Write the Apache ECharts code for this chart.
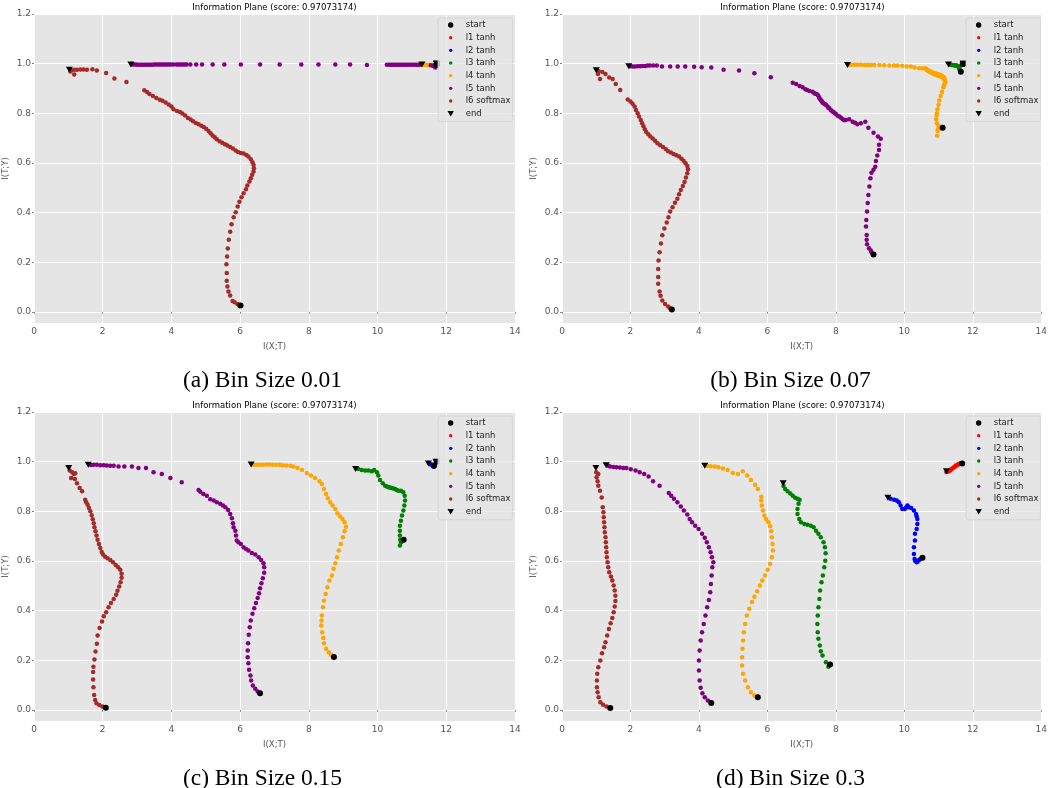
<!DOCTYPE html>
<html><head><meta charset="utf-8">
<script src="https://cdn.jsdelivr.net/npm/echarts@6/dist/echarts.min.js"></script>
<style>html,body{margin:0;padding:0;background:#fff}#c{width:1050px;height:788px}</style>
</head><body><div id="c"></div>
<script>
const layerNames = ['l1 tanh','l2 tanh','l3 tanh','l4 tanh','l5 tanh','l6 softmax'];
const layerColors = ['#ff0000','#0000ff','#008000','#ffa500','#800080','#a52a2a'];
const panelTitle = 'Information Plane (score: 0.97073174)';
const captions = ['(a) Bin Size 0.01','(b) Bin Size 0.07','(c) Bin Size 0.15','(d) Bin Size 0.3'];
const xAxisName = 'I(X;T)';
const yAxisName = 'I(T;Y)';

// ---------- panel (a) ----------
const a_l1 = [[11.72,0.998],[11.71,0.997],[11.70,0.998]];
const a_l2 = [[11.72,0.998],[11.71,0.998]];
const a_l3 = [[11.72,0.998],[11.70,0.997]];
const a_l4 = [[11.72,0.996],[11.68,0.995],[11.64,0.995],[11.60,0.995],[11.56,0.995],[11.52,0.995],[11.48,0.995],[11.44,0.995],[11.40,0.996],[11.36,0.996],[11.33,0.996],[11.30,0.997]];
const a_l5 = [[11.68,0.984],[11.62,0.99],[11.55,0.994],[11.24,0.996],[11.18,0.996],[11.12,0.996],[11.06,0.996],[11.0,0.996],[10.94,0.996],[10.88,0.996],[10.82,0.996],[10.76,0.996],[10.70,0.996],[10.64,0.996],[10.58,0.996],[10.52,0.996],[10.46,0.996],[10.40,0.996],[10.34,0.996],[10.27,0.996],[9.69,0.995],[9.20,0.997],[8.77,0.997],[8.28,0.997],[7.78,0.997],[7.15,0.997],[6.58,0.997],[6.02,0.997],[5.54,0.997],[5.20,0.997],[4.89,0.997],[4.72,0.997],[4.55,0.997],[4.44,0.997],[4.38,0.997],[4.32,0.997],[4.26,0.997],[4.20,0.997],[4.14,0.997],[4.05,0.997],[3.98,0.997],[3.92,0.997],[3.86,0.997],[3.80,0.997],[3.74,0.997],[3.68,0.997],[3.62,0.997],[3.56,0.997],[3.50,0.997],[3.44,0.996],[3.38,0.996],[3.32,0.996],[3.26,0.996],[3.20,0.996],[3.14,0.996],[3.08,0.996],[3.02,0.996],[2.96,0.997],[2.90,0.997],[2.85,0.997]];
const a_l6 = [[5.98,0.028],[5.92,0.032],[5.84,0.039],[5.78,0.044],[5.71,0.066],[5.66,0.082],[5.63,0.102],[5.61,0.125],[5.61,0.156],[5.60,0.192],[5.62,0.223],[5.64,0.255],[5.67,0.29],[5.71,0.323],[5.75,0.353],[5.81,0.381],[5.87,0.401],[5.93,0.424],[5.98,0.444],[6.04,0.462],[6.10,0.478],[6.17,0.494],[6.21,0.509],[6.27,0.525],[6.31,0.538],[6.35,0.552],[6.39,0.565],[6.40,0.579],[6.39,0.592],[6.36,0.603],[6.31,0.615],[6.24,0.626],[6.18,0.632],[6.10,0.638],[6.02,0.640],[5.94,0.644],[5.87,0.65],[5.79,0.658],[5.71,0.664],[5.63,0.67],[5.56,0.675],[5.48,0.681],[5.40,0.687],[5.32,0.695],[5.26,0.703],[5.20,0.71],[5.14,0.72],[5.08,0.729],[5.01,0.738],[4.94,0.745],[4.87,0.75],[4.79,0.756],[4.71,0.761],[4.63,0.768],[4.56,0.775],[4.48,0.781],[4.40,0.791],[4.32,0.799],[4.25,0.805],[4.16,0.809],[4.06,0.816],[4.00,0.827],[3.92,0.835],[3.83,0.843],[3.74,0.85],[3.66,0.855],[3.56,0.862],[3.46,0.87],[3.36,0.878],[3.29,0.886],[3.21,0.893],[2.69,0.926],[2.34,0.94],[2.10,0.962],[1.83,0.972],[1.70,0.977],[1.54,0.975],[1.44,0.976],[1.35,0.976],[1.25,0.975],[1.17,0.975],[1.08,0.972],[1.17,0.956],[1.06,0.968]];
const a_start = [[11.72,0.999],[11.72,0.999],[11.72,0.999],[11.72,0.998],[11.72,0.995],[6.01,0.026]];
const a_end = [[11.72,1.0],[11.72,1.0],[11.72,1.0],[11.29,0.997],[2.82,0.997],[1.03,0.975]];

// ---------- panel (b) ----------
const b_l1 = [[11.72,0.998],[11.71,0.997]];
const b_l2 = [[11.72,0.998],[11.71,0.998]];
const b_l3 = [[11.33,0.996],[11.37,0.995],[11.40,0.995],[11.44,0.994],[11.47,0.994],[11.50,0.993],[11.53,0.992],[11.56,0.99],[11.58,0.987],[11.60,0.982],[11.61,0.977],[11.63,0.972],[11.65,0.968],[11.66,0.994],[11.69,0.996]];
const b_l4 = [[11.05,0.74],[11.01,0.745],[10.98,0.735],[10.96,0.709],[10.97,0.73],[11.0,0.75],[10.95,0.76],[10.93,0.776],[10.94,0.79],[10.95,0.80],[10.97,0.816],[11.0,0.834],[11.02,0.851],[11.06,0.87],[11.10,0.887],[11.14,0.905],[11.16,0.913],[11.18,0.921],[11.2,0.925],[11.19,0.934],[11.18,0.93],[11.15,0.94],[11.17,0.942],[11.14,0.947],[11.10,0.945],[11.10,0.95],[11.05,0.948],[11.06,0.954],[11.0,0.95],[11.01,0.956],[10.95,0.953],[10.96,0.958],[10.90,0.955],[10.92,0.96],[10.85,0.958],[10.87,0.961],[10.80,0.962],[10.82,0.964],[10.75,0.965],[10.77,0.968],[10.70,0.97],[10.72,0.971],[10.65,0.975],[10.67,0.974],[10.64,0.978],[10.62,0.981],[10.53,0.981],[10.43,0.981],[10.30,0.984],[10.19,0.988],[10.07,0.988],[9.94,0.991],[9.80,0.992],[9.70,0.993],[9.56,0.993],[9.41,0.994],[9.27,0.995],[9.12,0.995],[9.02,0.995],[8.93,0.995],[8.83,0.995],[8.73,0.996],[8.63,0.996],[8.54,0.996],[8.44,0.996],[8.38,0.996]];
const b_l5 = [[9.04,0.24],[9.02,0.247],[8.97,0.256],[8.91,0.272],[8.90,0.29],[8.90,0.31],[8.88,0.344],[8.89,0.37],[8.91,0.404],[8.93,0.438],[8.95,0.471],[8.98,0.505],[9.01,0.538],[9.04,0.56],[9.10,0.572],[9.15,0.585],[9.17,0.608],[9.21,0.63],[9.26,0.652],[9.26,0.673],[9.31,0.697],[9.23,0.706],[9.10,0.722],[8.95,0.742],[8.86,0.766],[8.73,0.76],[8.63,0.756],[8.56,0.762],[8.49,0.766],[8.39,0.776],[8.29,0.773],[8.24,0.772],[8.20,0.776],[8.15,0.782],[8.10,0.787],[8.05,0.79],[8.0,0.797],[7.97,0.8],[7.93,0.805],[7.90,0.807],[7.86,0.812],[7.81,0.82],[7.78,0.822],[7.76,0.827],[7.71,0.834],[7.68,0.836],[7.64,0.84],[7.61,0.843],[7.59,0.848],[7.57,0.851],[7.55,0.856],[7.52,0.861],[7.50,0.868],[7.47,0.874],[7.44,0.878],[7.40,0.879],[7.37,0.881],[7.32,0.887],[7.23,0.89],[7.16,0.894],[7.11,0.897],[7.03,0.905],[6.94,0.91],[6.84,0.918],[6.74,0.923],[6.10,0.945],[5.62,0.961],[5.17,0.972],[4.72,0.975],[4.36,0.984],[4.08,0.985],[3.86,0.987],[3.60,0.988],[3.38,0.988],[3.16,0.988],[2.92,0.988],[2.77,0.992],[2.67,0.992],[2.57,0.993],[2.50,0.993],[2.43,0.99],[2.35,0.99],[2.28,0.989],[2.21,0.989],[2.13,0.988],[2.06,0.988],[1.99,0.989]];
const b_l6 = [[3.15,0.015],[3.10,0.021],[3.01,0.032],[2.93,0.046],[2.88,0.065],[2.85,0.082],[2.81,0.113],[2.81,0.14],[2.81,0.173],[2.82,0.207],[2.85,0.24],[2.89,0.275],[2.93,0.309],[2.99,0.336],[3.06,0.36],[3.11,0.381],[3.16,0.404],[3.23,0.421],[3.30,0.44],[3.37,0.456],[3.42,0.474],[3.47,0.491],[3.53,0.507],[3.58,0.523],[3.62,0.541],[3.66,0.558],[3.68,0.574],[3.66,0.588],[3.61,0.599],[3.55,0.609],[3.49,0.617],[3.42,0.626],[3.34,0.631],[3.26,0.636],[3.18,0.642],[3.10,0.647],[3.03,0.656],[2.95,0.664],[2.87,0.671],[2.79,0.679],[2.72,0.689],[2.65,0.698],[2.58,0.706],[2.52,0.715],[2.46,0.725],[2.42,0.736],[2.38,0.748],[2.34,0.76],[2.30,0.773],[2.25,0.787],[2.21,0.80],[2.16,0.813],[2.12,0.827],[2.06,0.838],[2.00,0.847],[1.92,0.856],[1.70,0.894],[1.57,0.918],[1.48,0.938],[1.38,0.944],[1.27,0.958],[1.18,0.966],[1.11,0.938],[1.05,0.958],[1.07,0.969]];
const b_start = [[11.72,0.999],[11.72,0.999],[11.65,0.967],[11.12,0.742],[9.10,0.231],[3.21,0.009]];
const b_end = [[11.72,1.0],[11.72,1.0],[11.29,0.997],[8.34,0.995],[1.95,0.989],[1.0,0.973]];

// ---------- panel (c) ----------
const c_l1 = [[11.72,0.999],[11.71,0.998]];
const c_l2 = [[11.52,0.99],[11.56,0.988],[11.60,0.985],[11.62,0.982],[11.64,0.98],[11.65,0.984],[11.63,0.987]];
const c_l3 = [[10.70,0.678],[10.68,0.675],[10.65,0.662],[10.66,0.685],[10.65,0.702],[10.65,0.722],[10.65,0.742],[10.68,0.762],[10.71,0.783],[10.75,0.803],[10.78,0.823],[10.80,0.843],[10.79,0.863],[10.75,0.877],[10.68,0.883],[10.61,0.883],[10.56,0.886],[10.51,0.89],[10.46,0.892],[10.41,0.894],[10.36,0.896],[10.32,0.897],[10.27,0.9],[10.22,0.903],[10.15,0.913],[10.07,0.926],[10.02,0.944],[9.98,0.957],[9.90,0.966],[9.83,0.961],[9.73,0.964],[9.64,0.964],[9.54,0.966],[9.44,0.97]];
const c_l4 = [[8.68,0.218],[8.65,0.221],[8.58,0.232],[8.50,0.246],[8.44,0.268],[8.42,0.289],[8.39,0.313],[8.36,0.34],[8.37,0.36],[8.38,0.38],[8.41,0.413],[8.44,0.44],[8.49,0.467],[8.54,0.494],[8.60,0.521],[8.67,0.541],[8.72,0.568],[8.77,0.591],[8.82,0.615],[8.87,0.642],[8.93,0.668],[8.99,0.695],[9.04,0.72],[9.08,0.738],[9.04,0.756],[8.98,0.769],[8.91,0.779],[8.83,0.792],[8.77,0.809],[8.69,0.823],[8.62,0.836],[8.55,0.852],[8.50,0.87],[8.44,0.89],[8.38,0.91],[8.31,0.921],[8.18,0.934],[8.06,0.944],[7.94,0.954],[7.80,0.966],[7.67,0.974],[7.55,0.98],[7.46,0.983],[7.34,0.984],[7.24,0.985],[7.15,0.987],[7.05,0.987],[6.95,0.987],[6.85,0.988],[6.76,0.988],[6.66,0.987],[6.56,0.987],[6.47,0.987],[6.39,0.987]];
const c_l5 = [[6.51,0.074],[6.44,0.085],[6.37,0.098],[6.32,0.118],[6.30,0.138],[6.26,0.161],[6.24,0.188],[6.22,0.212],[6.22,0.239],[6.23,0.268],[6.25,0.303],[6.28,0.333],[6.31,0.36],[6.36,0.387],[6.41,0.409],[6.46,0.43],[6.51,0.451],[6.55,0.47],[6.58,0.49],[6.62,0.51],[6.66,0.53],[6.70,0.552],[6.70,0.574],[6.68,0.591],[6.61,0.604],[6.54,0.615],[6.44,0.626],[6.34,0.632],[6.24,0.642],[6.17,0.648],[6.10,0.655],[6.02,0.668],[5.95,0.675],[5.90,0.682],[5.88,0.702],[5.86,0.722],[5.81,0.736],[5.79,0.752],[5.76,0.772],[5.71,0.789],[5.65,0.805],[5.57,0.816],[5.50,0.823],[5.42,0.83],[5.32,0.836],[5.23,0.843],[5.13,0.848],[5.03,0.863],[4.93,0.87],[4.84,0.879],[4.79,0.886],[4.30,0.917],[3.97,0.934],[3.72,0.95],[3.48,0.957],[3.26,0.974],[3.04,0.974],[2.85,0.98],[2.63,0.98],[2.46,0.98],[2.32,0.983],[2.22,0.983],[2.12,0.984],[2.03,0.985],[1.93,0.985],[1.83,0.987],[1.74,0.987],[1.66,0.986]];
const c_l6 = [[1.99,0.013],[1.90,0.019],[1.82,0.027],[1.78,0.04],[1.75,0.06],[1.73,0.091],[1.72,0.122],[1.72,0.152],[1.73,0.174],[1.76,0.203],[1.79,0.235],[1.83,0.266],[1.85,0.299],[1.91,0.33],[1.98,0.356],[2.03,0.377],[2.10,0.393],[2.17,0.413],[2.24,0.43],[2.32,0.447],[2.39,0.464],[2.43,0.48],[2.48,0.497],[2.52,0.514],[2.55,0.532],[2.55,0.548],[2.51,0.564],[2.45,0.574],[2.38,0.584],[2.30,0.595],[2.22,0.604],[2.14,0.611],[2.07,0.617],[2.01,0.626],[1.97,0.636],[1.93,0.652],[1.89,0.668],[1.85,0.685],[1.82,0.702],[1.79,0.72],[1.76,0.736],[1.74,0.752],[1.71,0.768],[1.68,0.784],[1.64,0.80],[1.60,0.813],[1.56,0.826],[1.52,0.836],[1.49,0.846],[1.40,0.881],[1.33,0.894],[1.25,0.913],[1.19,0.93],[1.16,0.95],[1.08,0.934],[1.20,0.953],[1.04,0.964],[1.11,0.957]];
const c_start = [[11.72,1.0],[11.64,0.983],[10.76,0.685],[8.73,0.213],[6.58,0.067],[2.09,0.008]];
const c_end = [[11.70,1.0],[11.48,0.993],[9.36,0.97],[6.32,0.988],[1.58,0.987],[1.01,0.974]];

// ---------- panel (d) ----------
const d_l1 = [[11.23,0.958],[11.27,0.96],[11.30,0.961],[11.34,0.965],[11.37,0.969],[11.41,0.973],[11.45,0.977],[11.48,0.98],[11.51,0.984],[11.55,0.986],[11.58,0.989],[11.61,0.991],[11.64,0.993],[11.67,0.994]];
const d_l2 = [[10.47,0.608],[10.43,0.604],[10.39,0.598],[10.36,0.595],[10.32,0.6],[10.30,0.608],[10.28,0.628],[10.28,0.655],[10.31,0.682],[10.31,0.709],[10.36,0.729],[10.38,0.749],[10.38,0.769],[10.36,0.78],[10.34,0.789],[10.28,0.803],[10.20,0.813],[10.13,0.816],[10.09,0.823],[10.05,0.815],[10.01,0.809],[9.94,0.809],[9.89,0.823],[9.84,0.836],[9.78,0.843],[9.70,0.846],[9.60,0.85]];
const d_l3 = [[7.78,0.174],[7.71,0.192],[7.61,0.219],[7.56,0.236],[7.53,0.259],[7.49,0.286],[7.47,0.313],[7.46,0.346],[7.47,0.38],[7.49,0.413],[7.52,0.447],[7.54,0.481],[7.58,0.514],[7.62,0.541],[7.66,0.574],[7.69,0.601],[7.70,0.631],[7.68,0.655],[7.64,0.675],[7.56,0.695],[7.49,0.709],[7.42,0.722],[7.35,0.736],[7.27,0.742],[7.17,0.746],[7.08,0.749],[6.98,0.756],[6.93,0.769],[6.88,0.789],[6.88,0.809],[6.91,0.83],[6.94,0.846],[6.88,0.85],[6.81,0.854],[6.74,0.863],[6.67,0.872],[6.59,0.881],[6.52,0.89],[6.47,0.902]];
const d_l4 = [[5.62,0.058],[5.52,0.071],[5.43,0.091],[5.35,0.118],[5.29,0.145],[5.26,0.179],[5.26,0.212],[5.27,0.246],[5.29,0.279],[5.31,0.313],[5.35,0.346],[5.40,0.38],[5.47,0.407],[5.55,0.434],[5.62,0.456],[5.70,0.478],[5.78,0.501],[5.85,0.521],[5.93,0.541],[6.01,0.564],[6.08,0.588],[6.13,0.615],[6.16,0.642],[6.15,0.668],[6.13,0.695],[6.11,0.72],[6.08,0.74],[6.03,0.756],[5.96,0.769],[5.91,0.783],[5.87,0.803],[5.84,0.823],[5.82,0.843],[5.82,0.859],[5.72,0.89],[5.64,0.907],[5.52,0.926],[5.41,0.944],[5.28,0.961],[5.14,0.95],[4.99,0.954],[4.84,0.966],[4.70,0.972],[4.57,0.977],[4.46,0.98],[4.34,0.981],[4.24,0.983]];
const d_l5 = [[4.26,0.038],[4.17,0.051],[4.10,0.067],[4.05,0.089],[4.02,0.118],[4.00,0.158],[4.00,0.199],[4.02,0.239],[4.05,0.279],[4.09,0.313],[4.14,0.346],[4.19,0.38],[4.24,0.413],[4.29,0.443],[4.33,0.474],[4.35,0.507],[4.37,0.541],[4.39,0.574],[4.42,0.595],[4.38,0.615],[4.34,0.635],[4.29,0.655],[4.23,0.675],[4.17,0.693],[4.09,0.709],[3.99,0.729],[3.89,0.742],[3.80,0.756],[3.73,0.769],[3.66,0.787],[3.56,0.803],[3.47,0.819],[3.37,0.836],[3.27,0.85],[3.19,0.863],[3.12,0.874],[2.85,0.903],[2.66,0.921],[2.53,0.94],[2.40,0.95],[2.27,0.957],[2.15,0.964],[2.01,0.969],[1.88,0.974],[1.79,0.974],[1.69,0.976],[1.59,0.977],[1.50,0.978],[1.40,0.98],[1.35,0.983]];
const d_l6 = [[1.30,0.013],[1.20,0.02],[1.12,0.031],[1.07,0.051],[1.04,0.071],[1.02,0.091],[1.02,0.118],[1.03,0.145],[1.06,0.172],[1.12,0.199],[1.17,0.228],[1.23,0.252],[1.27,0.272],[1.32,0.299],[1.37,0.326],[1.42,0.349],[1.47,0.37],[1.51,0.393],[1.54,0.416],[1.56,0.438],[1.56,0.46],[1.54,0.481],[1.51,0.501],[1.47,0.521],[1.43,0.537],[1.38,0.554],[1.35,0.574],[1.33,0.595],[1.31,0.615],[1.30,0.635],[1.29,0.655],[1.28,0.675],[1.27,0.695],[1.25,0.715],[1.24,0.736],[1.23,0.756],[1.22,0.776],[1.21,0.796],[1.19,0.816],[1.16,0.856],[1.11,0.883],[1.06,0.903],[1.04,0.921],[1.01,0.937],[1.06,0.95],[1.00,0.957]];
const d_start = [[11.69,0.993],[10.53,0.613],[7.83,0.183],[5.72,0.051],[4.36,0.028],[1.41,0.007]];
const d_end = [[11.23,0.961],[9.52,0.854],[6.46,0.913],[4.17,0.983],[1.29,0.985],[0.99,0.974]];

const panels = [
  {layers:[a_l1,a_l2,a_l3,a_l4,a_l5,a_l6], start:a_start, end:a_end},
  {layers:[b_l1,b_l2,b_l3,b_l4,b_l5,b_l6], start:b_start, end:b_end},
  {layers:[c_l1,c_l2,c_l3,c_l4,c_l5,c_l6], start:c_start, end:c_end},
  {layers:[d_l1,d_l2,d_l3,d_l4,d_l5,d_l6], start:d_start, end:d_end}
];

// layout
const GW = 481, GH = 309;
const gridPos = [{left:34,top:14},{left:562,top:14},{left:34,top:412},{left:562,top:412}];
const FONT = 'DejaVu Sans';

const dotIcon = 'path://M0,0M10,10M6.7,5A1.7,1.7,0,1,1,3.3,5A1.7,1.7,0,1,1,6.7,5Z';
const bigIcon = 'path://M0,0M10,10M7.7,5A2.7,2.7,0,1,1,2.3,5A2.7,2.7,0,1,1,7.7,5Z';
const triIcon = 'path://M0,0M10,10M1.8,2.2L8.2,2.2L5,7.8Z';
const legendData = [{name:'start',icon:bigIcon}]
  .concat(layerNames.map(n=>({name:n,icon:dotIcon})))
  .concat([{name:'end',icon:triIcon}]);

const series = [];
panels.forEach((p,i)=>{
  p.layers.forEach((d,j)=>{
    series.push({type:'scatter',name:layerNames[j],xAxisIndex:i,yAxisIndex:i,data:d,
      symbol:'circle',symbolSize:4.5,itemStyle:{color:layerColors[j],opacity:1},z:2,silent:true});
  });
  series.push({type:'scatter',name:'start',xAxisIndex:i,yAxisIndex:i,data:p.start,
    symbol:'circle',symbolSize:6,itemStyle:{color:'#000000',opacity:1},z:3,silent:true});
  series.push({type:'scatter',name:'end',xAxisIndex:i,yAxisIndex:i,data:p.end,
    symbol:'path://M0,0L10,0L5,9Z',symbolSize:[7,6],itemStyle:{color:'#000000',opacity:1},z:3,silent:true});
});

const chart = echarts.init(document.getElementById('c'), null, {renderer:'canvas'});
chart.setOption({
  animation:false,
  backgroundColor:'#ffffff',
  title: gridPos.map(g=>({text:panelTitle,left:g.left+GW/2,top:g.top-10.5,textAlign:'center',padding:0,
    textStyle:{fontFamily:FONT,fontSize:8.5,fontWeight:'normal',color:'#000'}})),
  grid: gridPos.map(g=>({left:g.left,top:g.top,width:GW,height:GH,show:true,backgroundColor:'#e5e5e5',borderWidth:0})),
  xAxis: gridPos.map((g,i)=>({type:'value',gridIndex:i,min:0,max:14,interval:2,
    name:xAxisName,nameLocation:'middle',nameGap:19,
    nameTextStyle:{fontFamily:FONT,fontSize:8.5,color:'#555'},
    axisLine:{show:false},axisTick:{show:true,length:2,lineStyle:{color:'#888'}},
    axisLabel:{margin:4,fontFamily:FONT,fontSize:9,color:'#555'},
    splitLine:{show:true,lineStyle:{color:'#ffffff',width:1}}})),
  yAxis: gridPos.map((g,i)=>({type:'value',gridIndex:i,min:-0.045,max:1.2,splitNumber:6,
    name:yAxisName,nameLocation:'middle',nameGap:24,
    nameTextStyle:{fontFamily:FONT,fontSize:8.5,color:'#555'},
    axisLine:{show:false},axisTick:{show:true,length:2,lineStyle:{color:'#888'}},
    axisLabel:{margin:3,fontFamily:FONT,fontSize:9,color:'#555',showMinLabel:false,
      formatter:v=>v.toFixed(1)},
    splitLine:{show:true,lineStyle:{color:'#ffffff',width:1}}})),
  legend: gridPos.map(g=>({orient:'vertical',left:g.left+404,top:g.top+4,
    itemWidth:20,itemHeight:10,itemGap:2.67,padding:[2,2,3,7.7],
    backgroundColor:'rgba(229,229,229,0.8)',borderColor:'#d2d2d2',borderWidth:0.8,borderRadius:2,
    selectedMode:false,
    textStyle:{fontFamily:FONT,fontSize:8.5,color:'#222'},
    data:legendData})),
  graphic: captions.map((c,i)=>({type:'text',x:gridPos[i].left+GW/2-12,y:gridPos[i].top+366.5,
    style:{text:c,fill:'#000',font:'23.5px "Liberation Serif"',align:'center',verticalAlign:'middle',
      textAlign:'center',textVerticalAlign:'middle'}})),
  series: series
});
</script></body></html>
